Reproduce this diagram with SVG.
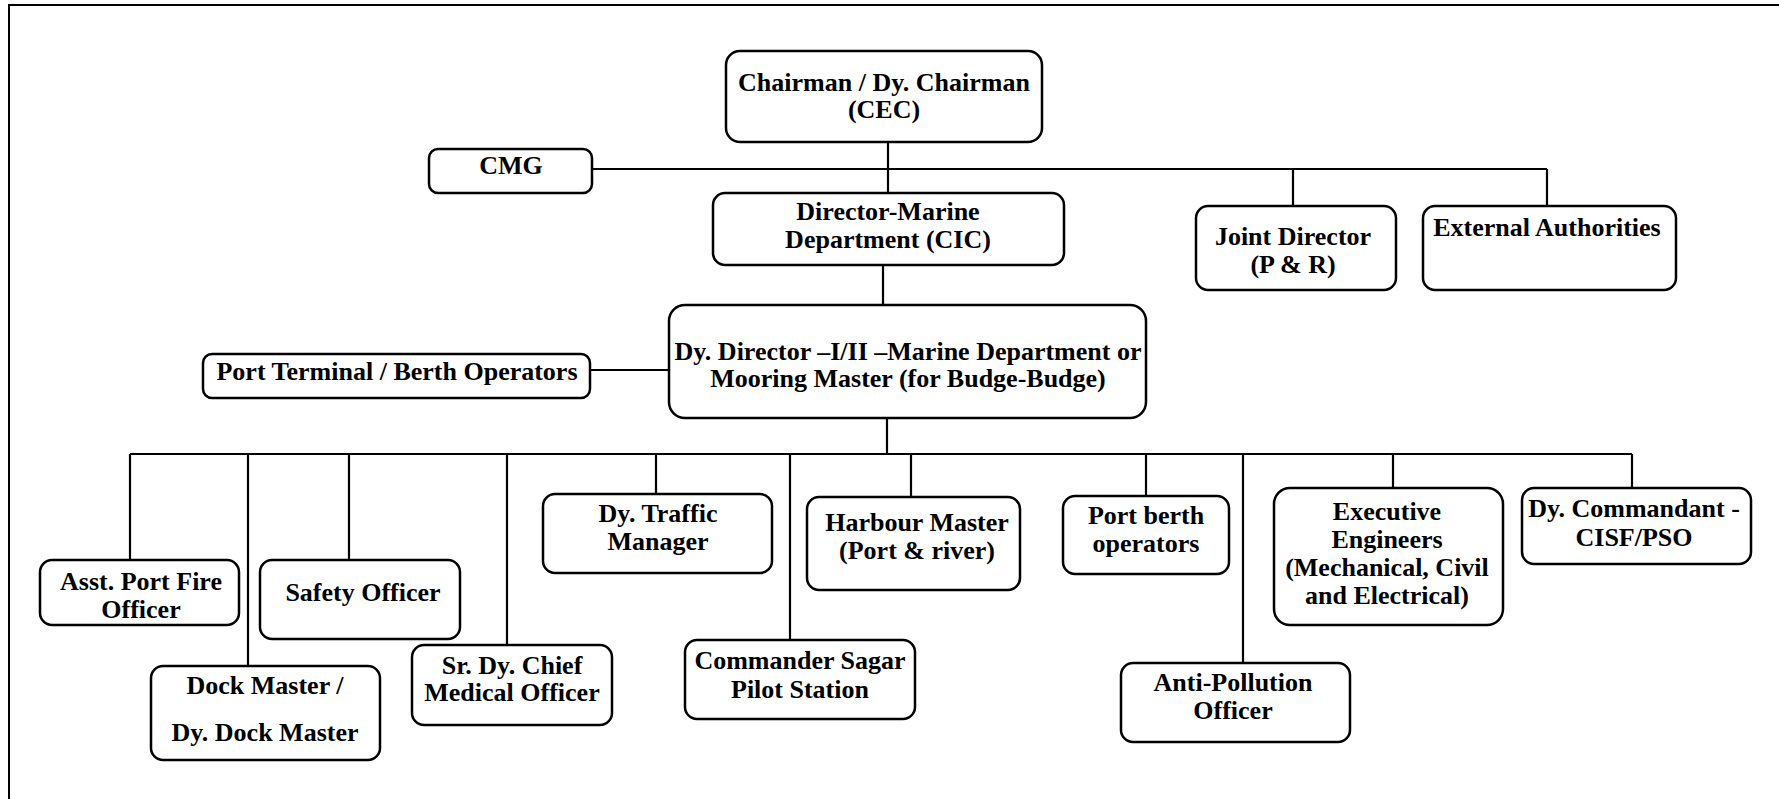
<svg xmlns="http://www.w3.org/2000/svg" width="1779" height="799" viewBox="0 0 1779 799">
<style>
.b{fill:#fff;stroke:#000;stroke-width:2.5}
.c{fill:none;stroke:#000;stroke-width:2.2}
.t text{text-anchor:middle;fill:#000}
</style>
<rect width="1779" height="799" fill="#fff"/>
<path d="M9,799 V5 H1779" fill="none" stroke="#000" stroke-width="2"/>
<g id="connectors" class="c">
<path d="M888,142 V193"/>
<path d="M592,169 H1547 M1293,169 V206 M1547,169 V206"/>
<path d="M883,265 V305"/>
<path d="M590,370 H669"/>
<path d="M887,418 V454"/>
<path d="M130,454 H1632"/>
<path d="M130,454 V560 M248,454 V666 M349,454 V560 M507,454 V645 M656,454 V494 M790,454 V640 M911,454 V497 M1146,454 V496 M1243,454 V663 M1393,454 V488 M1632,454 V488"/>
</g>
<g class="t" font-family="Liberation Serif, Times New Roman, serif" font-weight="bold" font-size="26">
<g id="chairman"><rect class="b" x="726" y="51" width="316" height="91" rx="14"/><text x="884" y="91">Chairman / Dy. Chairman</text><text x="884" y="118">(CEC)</text></g>
<g id="cmg"><rect class="b" x="429" y="149" width="163" height="44" rx="9"/><text x="511" y="174">CMG</text></g>
<g id="director"><rect class="b" x="713" y="193" width="351" height="72" rx="12"/><text x="888" y="220">Director-Marine</text><text x="888" y="248">Department (CIC)</text></g>
<g id="joint"><rect class="b" x="1196" y="206" width="200" height="84" rx="12"/><text x="1293" y="245">Joint Director</text><text x="1293" y="273">(P &amp; R)</text></g>
<g id="external"><rect class="b" x="1423" y="206" width="253" height="84" rx="12"/><text x="1547" y="236">External Authorities</text></g>
<g id="portterminal"><rect class="b" x="203" y="354" width="387" height="44" rx="9"/><text x="397" y="380">Port Terminal / Berth Operators</text></g>
<g id="dydirector"><rect class="b" x="669" y="305" width="477" height="113" rx="16"/><text x="908" y="360">Dy. Director –I/II –Marine Department or</text><text x="908" y="387">Mooring Master (for Budge-Budge)</text></g>
<g id="asstfire"><rect class="b" x="40" y="560" width="199" height="65" rx="12"/><text x="141" y="590">Asst. Port Fire</text><text x="141" y="618">Officer</text></g>
<g id="safety"><rect class="b" x="260" y="560" width="200" height="79" rx="12"/><text x="363" y="601">Safety Officer</text></g>
<g id="dockmaster"><rect class="b" x="151" y="666" width="229" height="94" rx="12"/><text x="265" y="694">Dock Master /</text><text x="265" y="741">Dy. Dock Master</text></g>
<g id="medical"><rect class="b" x="412" y="645" width="200" height="80" rx="12"/><text x="512" y="674">Sr. Dy. Chief</text><text x="512" y="701">Medical Officer</text></g>
<g id="traffic"><rect class="b" x="543" y="494" width="229" height="79" rx="12"/><text x="658" y="522">Dy. Traffic</text><text x="658" y="550">Manager</text></g>
<g id="commander"><rect class="b" x="685" y="640" width="230" height="79" rx="12"/><text x="800" y="669">Commander Sagar</text><text x="800" y="698">Pilot Station</text></g>
<g id="harbour"><rect class="b" x="807" y="497" width="213" height="93" rx="12"/><text x="917" y="531">Harbour Master</text><text x="917" y="559">(Port &amp; river)</text></g>
<g id="portberth"><rect class="b" x="1063" y="496" width="166" height="78" rx="12"/><text x="1146" y="524">Port berth</text><text x="1146" y="552">operators</text></g>
<g id="antipollution"><rect class="b" x="1121" y="663" width="229" height="79" rx="12"/><text x="1233" y="691">Anti-Pollution</text><text x="1233" y="719">Officer</text></g>
<g id="exec"><rect class="b" x="1274" y="488" width="229" height="137" rx="16"/><text x="1387" y="520">Executive</text><text x="1387" y="548">Engineers</text><text x="1387" y="576">(Mechanical, Civil</text><text x="1387" y="604">and Electrical)</text></g>
<g id="commandant"><rect class="b" x="1522" y="488" width="229" height="76" rx="12"/><text x="1634" y="517">Dy. Commandant -</text><text x="1634" y="546">CISF/PSO</text></g>
</g>
</svg>
